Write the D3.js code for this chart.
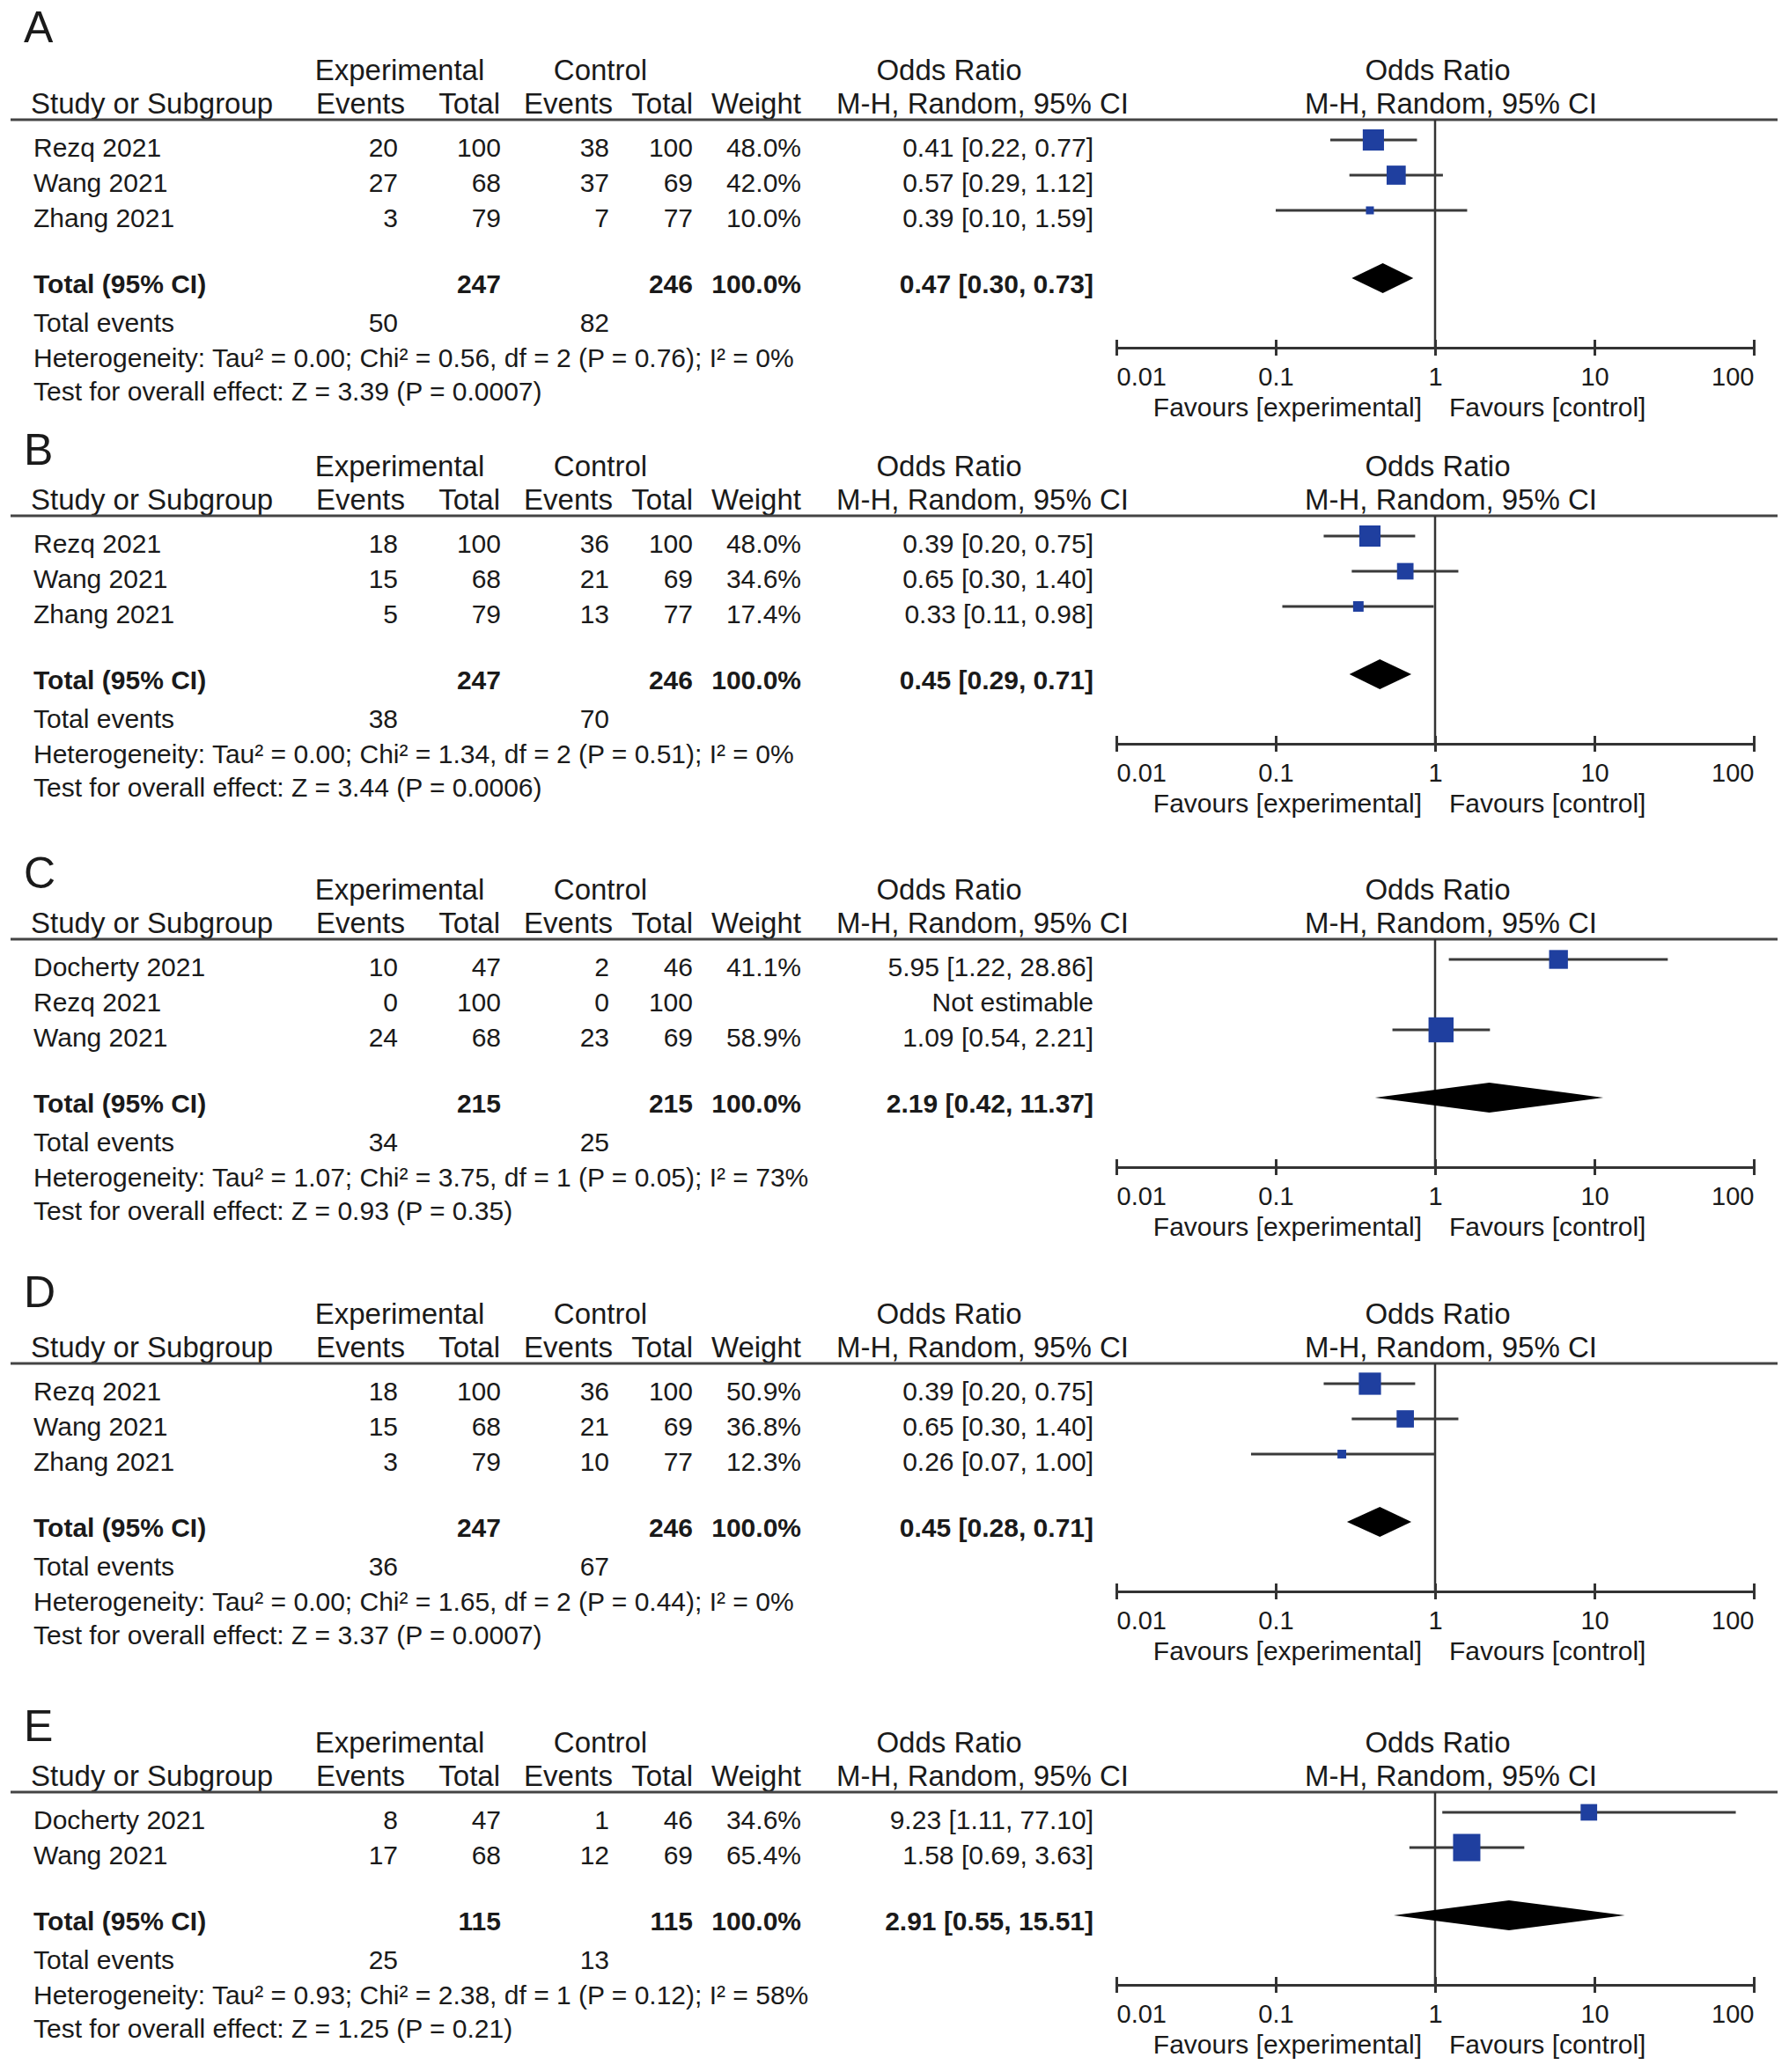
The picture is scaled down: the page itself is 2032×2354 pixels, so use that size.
<!DOCTYPE html>
<head>
<meta charset="utf-8">
<script src="https://d3js.org/d3.v7.min.js"></script>
</head>
<style>
  body { margin: 0; background: #fff; }
  text { font-family: "Liberation Sans", Arial, sans-serif; fill: #1a1a1a; }
</style>
<body>
<svg id="forest" width="2032" height="2354"></svg>
<script>
// ---- data ----
const panelLabels = ["A", "B", "C", "D", "E"];
const studyNames = [
  ["Rezq 2021", "Wang 2021", "Zhang 2021"],
  ["Rezq 2021", "Wang 2021", "Zhang 2021"],
  ["Docherty 2021", "Rezq 2021", "Wang 2021"],
  ["Rezq 2021", "Wang 2021", "Zhang 2021"],
  ["Docherty 2021", "Wang 2021"]
];
const expEvents  = [[20, 27, 3], [18, 15, 5], [10, 0, 24], [18, 15, 3], [8, 17]];
const expTotal   = [[100, 68, 79], [100, 68, 79], [47, 100, 68], [100, 68, 79], [47, 68]];
const ctrlEvents = [[38, 37, 7], [36, 21, 13], [2, 0, 23], [36, 21, 10], [1, 12]];
const ctrlTotal  = [[100, 69, 77], [100, 69, 77], [46, 100, 69], [100, 69, 77], [46, 69]];
const weights    = [[48.0, 42.0, 10.0], [48.0, 34.6, 17.4], [41.1, null, 58.9], [50.9, 36.8, 12.3], [34.6, 65.4]];
const orEst  = [[0.41, 0.57, 0.39], [0.39, 0.65, 0.33], [5.95, null, 1.09], [0.39, 0.65, 0.26], [9.23, 1.58]];
const orLow  = [[0.22, 0.29, 0.10], [0.20, 0.30, 0.11], [1.22, null, 0.54], [0.20, 0.30, 0.07], [1.11, 0.69]];
const orHigh = [[0.77, 1.12, 1.59], [0.75, 1.40, 0.98], [28.86, null, 2.21], [0.75, 1.40, 1.00], [77.10, 3.63]];

const totalExpN  = [247, 247, 215, 247, 115];
const totalCtrlN = [246, 246, 215, 246, 115];
const totalExpEvents  = [50, 38, 34, 36, 25];
const totalCtrlEvents = [82, 70, 25, 67, 13];
const totalOR   = [0.47, 0.45, 2.19, 0.45, 2.91];
const totalLow  = [0.30, 0.29, 0.42, 0.28, 0.55];
const totalHigh = [0.73, 0.71, 11.37, 0.71, 15.51];

const heterogeneity = [
  "Heterogeneity: Tau² = 0.00; Chi² = 0.56, df = 2 (P = 0.76); I² = 0%",
  "Heterogeneity: Tau² = 0.00; Chi² = 1.34, df = 2 (P = 0.51); I² = 0%",
  "Heterogeneity: Tau² = 1.07; Chi² = 3.75, df = 1 (P = 0.05); I² = 73%",
  "Heterogeneity: Tau² = 0.00; Chi² = 1.65, df = 2 (P = 0.44); I² = 0%",
  "Heterogeneity: Tau² = 0.93; Chi² = 2.38, df = 1 (P = 0.12); I² = 58%"
];
const overallTest = [
  "Test for overall effect: Z = 3.39 (P = 0.0007)",
  "Test for overall effect: Z = 3.44 (P = 0.0006)",
  "Test for overall effect: Z = 0.93 (P = 0.35)",
  "Test for overall effect: Z = 3.37 (P = 0.0007)",
  "Test for overall effect: Z = 1.25 (P = 0.21)"
];
const axisTicks = [0.01, 0.1, 1, 10, 100];

// ---- layout ----
const svg = d3.select("#forest");
const lineY = [136, 586, 1067, 1549, 2036];     // header rule of each panel
const letterOffset = [88, 58, 58, 64, 58];
const col = { name: 38, expE: 452, expN: 569, ctlE: 692, ctlN: 787, wt: 910, or: 1242 };

const x = d3.scaleLog().domain([0.01, 100]).range([1268, 1992]);
const boxSize = d3.scaleLinear().domain([10, 65.4]).range([9, 31]);

function txt(g, px, py, s, anchor, size, bold) {
  return g.append("text")
    .attr("x", px).attr("y", py)
    .attr("text-anchor", anchor || "start")
    .style("font-size", (size || 30) + "px")
    .style("font-weight", bold ? "bold" : "normal")
    .text(s);
}
const fmt = v => v.toFixed(2);

panelLabels.forEach((lab, p) => {
  const L = lineY[p];
  const g = svg.append("g");
  const n = studyNames[p].length;

  txt(g, 27, L - letterOffset[p], lab, "start", 50);

  // headers
  txt(g, 454, L - 45, "Experimental", "middle", 33);
  txt(g, 682, L - 45, "Control", "middle", 33);
  txt(g, 1078, L - 45, "Odds Ratio", "middle", 33);
  txt(g, 1633, L - 45, "Odds Ratio", "middle", 33);
  txt(g, 35, L - 7, "Study or Subgroup", "start", 33);
  txt(g, 460, L - 7, "Events", "end", 33);
  txt(g, 568, L - 7, "Total", "end", 33);
  txt(g, 696, L - 7, "Events", "end", 33);
  txt(g, 787, L - 7, "Total", "end", 33);
  txt(g, 910, L - 7, "Weight", "end", 33);
  txt(g, 1116, L - 7, "M-H, Random, 95% CI", "middle", 33);
  txt(g, 1648, L - 7, "M-H, Random, 95% CI", "middle", 33);

  g.append("line").attr("x1", 12).attr("x2", 2019).attr("y1", L).attr("y2", L)
    .attr("stroke", "#444").attr("stroke-width", 3);

  const rowY = i => L + 42 + 40 * i;
  const totY = rowY(n - 1) + 75;
  const axisY = totY + 62;

  // reference line at OR = 1
  g.append("line").attr("x1", x(1)).attr("x2", x(1)).attr("y1", L).attr("y2", axisY)
    .attr("stroke", "#333").attr("stroke-width", 2.5);

  studyNames[p].forEach((name, i) => {
    const y = rowY(i);
    txt(g, col.name, y, name);
    txt(g, col.expE, y, expEvents[p][i], "end");
    txt(g, col.expN, y, expTotal[p][i], "end");
    txt(g, col.ctlE, y, ctrlEvents[p][i], "end");
    txt(g, col.ctlN, y, ctrlTotal[p][i], "end");
    if (weights[p][i] == null) {
      txt(g, col.or, y, "Not estimable", "end");
      return;
    }
    txt(g, col.wt, y, weights[p][i].toFixed(1) + "%", "end");
    txt(g, col.or, y, `${fmt(orEst[p][i])} [${fmt(orLow[p][i])}, ${fmt(orHigh[p][i])}]`, "end");

    const cy = y - 19;
    g.append("line")
      .attr("x1", x(orLow[p][i])).attr("x2", x(orHigh[p][i]))
      .attr("y1", cy).attr("y2", cy)
      .attr("stroke", "#3a3a3a").attr("stroke-width", 3);
    const s = boxSize(weights[p][i]);
    g.append("rect")
      .attr("x", x(orEst[p][i]) - s / 2).attr("y", cy - s / 2)
      .attr("width", s).attr("height", s)
      .attr("fill", "#1f3f9f");
  });

  // totals
  txt(g, col.name, totY, "Total (95% CI)", "start", 30, true);
  txt(g, col.expN, totY, totalExpN[p], "end", 30, true);
  txt(g, col.ctlN, totY, totalCtrlN[p], "end", 30, true);
  txt(g, col.wt, totY, "100.0%", "end", 30, true);
  txt(g, col.or, totY, `${fmt(totalOR[p])} [${fmt(totalLow[p])}, ${fmt(totalHigh[p])}]`, "end", 30, true);

  const dy = totY - 17;
  g.append("path")
    .attr("d", d3.line()([
      [x(totalLow[p]), dy], [x(totalOR[p]), dy - 17],
      [x(totalHigh[p]), dy], [x(totalOR[p]), dy + 17]
    ]) + "Z")
    .attr("fill", "#000");

  txt(g, col.name, totY + 44, "Total events");
  txt(g, col.expE, totY + 44, totalExpEvents[p], "end");
  txt(g, col.ctlE, totY + 44, totalCtrlEvents[p], "end");
  txt(g, col.name, totY + 84, heterogeneity[p]);
  txt(g, col.name, totY + 122, overallTest[p]);

  // axis
  const ax = g.append("g")
    .attr("transform", `translate(0,${axisY})`)
    .call(d3.axisBottom(x).tickValues(axisTicks).tickFormat(d3.format("~g")).tickSizeOuter(0));
  ax.select(".domain").attr("stroke", "#333").attr("stroke-width", 3);
  ax.selectAll(".tick line").attr("y1", -9).attr("y2", 9)
    .attr("stroke", "#333").attr("stroke-width", 3);
  ax.selectAll(".tick text")
    .attr("y", 43).attr("dy", null)
    .attr("text-anchor", (d, i) => i === 0 ? "start" : (i === axisTicks.length - 1 ? "end" : "middle"))
    .style("font-size", "29px")
    .style("font-family", '"Liberation Sans", Arial, sans-serif')
    .attr("fill", "#1a1a1a");

  txt(g, 1615, axisY + 78, "Favours [experimental]", "end", 30);
  txt(g, 1646, axisY + 78, "Favours [control]", "start", 30);
});
</script>
</body>
